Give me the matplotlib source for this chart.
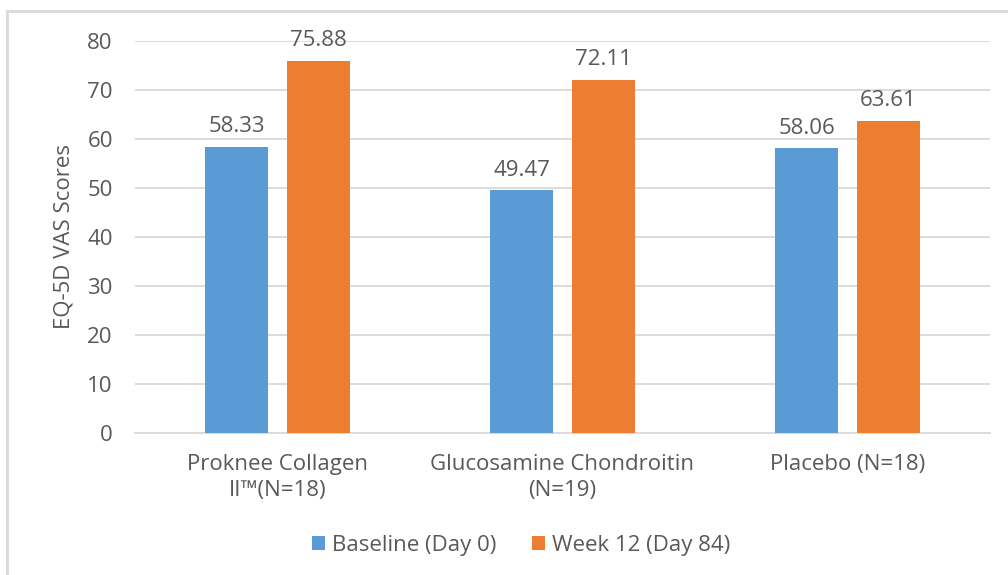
import matplotlib.pyplot as plt
import numpy as np
from matplotlib.patches import Rectangle

groups = ["Proknee Collagen\nII\u2122(N=18)", "Glucosamine Chondroitin\n(N=19)", "Placebo (N=18)"]
baseline = [58.33, 49.47, 58.06]
week12 = [75.88, 72.11, 63.61]
series_names = ["Baseline (Day 0)", "Week 12 (Day 84)"]

plt.rcParams['font.family'] = ['Open Sans', 'DejaVu Sans']
text_col = '#595959'
fs = 16

fig = plt.figure(figsize=(10.08, 5.75), dpi=100)
# outer chart frame; right and bottom edges run off the canvas
fig.patches.append(Rectangle((0.007, -0.05), 1.1, 1.031, transform=fig.transFigure,
                             fill=False, edgecolor='#d9d9d9', linewidth=2))
ax = fig.add_axes([0.134, 0.247, 0.848, 0.682])

x = np.arange(len(groups))
w = 0.221
off = 0.143
b1 = ax.bar(x - off, baseline, w, color='#5b9bd5', label=series_names[0], zorder=3)
b2 = ax.bar(x + off, week12, w, color='#ed7d31', label=series_names[1], zorder=3)

for bars, vals in ((b1, baseline), (b2, week12)):
    for r, v in zip(bars, vals):
        ax.text(r.get_x() + r.get_width() / 2, v + 2.0, f"{v:.2f}", ha='center', va='bottom',
                fontsize=fs, color=text_col)

ax.set_xlim(-0.5, 2.5)
ax.set_ylim(0, 80)
ax.set_yticks(range(0, 81, 10))
ax.set_xticks(x)
ax.set_xticklabels(groups, linespacing=1.35)
ax.yaxis.grid(True, color='#d9d9d9', linewidth=1.3, zorder=0)
for s in ['top', 'right', 'left']:
    ax.spines[s].set_visible(False)
ax.spines['bottom'].set_color('#d9d9d9')
ax.spines['bottom'].set_linewidth(1.3)
ax.tick_params(axis='both', length=0, labelsize=fs, labelcolor=text_col)
ax.tick_params(axis='y', pad=16)
ax.tick_params(axis='x', pad=15)
ax.set_ylabel("EQ-5D VAS Scores", fontsize=fs, color=text_col, labelpad=9)

fig.legend(handles=[b1, b2], loc='center', bbox_to_anchor=(0.517, 0.052), ncol=2,
           frameon=False, fontsize=fs, labelcolor=text_col, handlelength=0.6,
           handleheight=0.6, handletextpad=0.3, columnspacing=1.6)

fig.savefig("out.png", dpi=100)
